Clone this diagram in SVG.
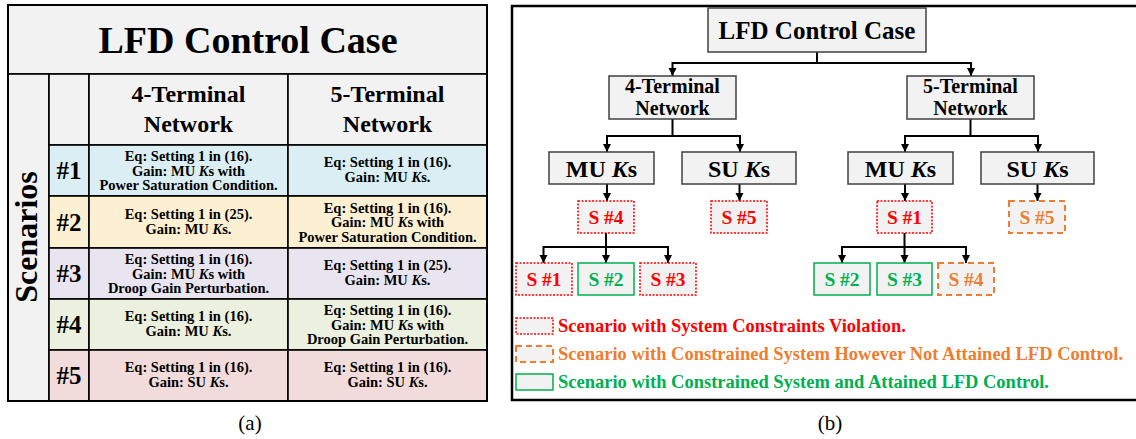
<svg xmlns="http://www.w3.org/2000/svg" width="1136" height="439" viewBox="0 0 1136 439" font-family="'Liberation Serif', 'DejaVu Serif', serif">
<defs>
<style>
text{font-family:"Liberation Serif","DejaVu Serif",serif;font-weight:700;text-anchor:middle;fill:#000}
.cell{stroke:#000;stroke-width:1.6}
.g{fill:#f2f2f2}
.r1{fill:#daeef3}.r2{fill:#fdf0d2}.r3{fill:#e9e5f0}.r4{fill:#ebf1de}.r5{fill:#f2dcdb}
.t{font-size:14.5px}
.hash{font-size:25px}
.box{fill:#f2f2f2;stroke:#404040;stroke-width:1.5}
.red{fill:#f2f2f2;stroke:#ff0000;stroke-width:1.5;stroke-dasharray:2 1.5}
.grn{fill:#f2f2f2;stroke:#00b050;stroke-width:1.5}
.org{fill:#f2f2f2;stroke:#ed7d31;stroke-width:2;stroke-dasharray:6 4}
.tr{fill:#ff0000}.tg{fill:#00b050}.to{fill:#ed7d31}
.s{font-size:19.5px}
.lg{font-size:18.5px;text-anchor:start}
.cap{font-weight:400;font-size:21px}
.con{fill:none;stroke:#000;stroke-width:2;marker-end:url(#ah)}
</style>
<marker id="ah" markerUnits="userSpaceOnUse" markerWidth="10" markerHeight="10" refX="8" refY="4" orient="auto">
<path d="M0,0 L8,4 L0,8 z" fill="#000"/>
</marker>
</defs>

<g id="table-a">
<rect class="cell g" x="8" y="5" width="479" height="69" stroke-width="2"/>
<text x="248" y="53" style="font-size:38px">LFD Control Case</text>
<rect class="cell g" x="8" y="74" width="41" height="327"/>
<text transform="translate(37,237) rotate(-90)" style="font-size:32px">Scenarios</text>
<rect class="cell g" x="49" y="74" width="40" height="71"/>
<rect class="cell g" x="89" y="74" width="199" height="71"/>
<rect class="cell g" x="288" y="74" width="199" height="71"/>
<text x="188.5" y="102" style="font-size:24px">4-Terminal</text>
<text x="188.5" y="132" style="font-size:24px">Network</text>
<text x="387.5" y="102" style="font-size:24px">5-Terminal</text>
<text x="387.5" y="132" style="font-size:24px">Network</text>
</g>

<g id="row1">
<rect class="cell r1" x="49" y="145" width="40" height="51"/>
<rect class="cell r1" x="89" y="145" width="199" height="51"/>
<rect class="cell r1" x="288" y="145" width="199" height="51"/>
<text class="hash" x="69" y="179">#1</text>
<text class="t" x="188.5" y="161">Eq: Setting 1 in (16).</text>
<text class="t" x="188.5" y="175.5">Gain: MU <tspan font-style="italic">K</tspan>s with</text>
<text class="t" x="188.5" y="190">Power Saturation Condition.</text>
<text class="t" x="387.5" y="167">Eq: Setting 1 in (16).</text>
<text class="t" x="387.5" y="182">Gain: MU <tspan font-style="italic">K</tspan>s.</text>
</g>

<g id="row2">
<rect class="cell r2" x="49" y="196" width="40" height="52"/>
<rect class="cell r2" x="89" y="196" width="199" height="52"/>
<rect class="cell r2" x="288" y="196" width="199" height="52"/>
<text class="hash" x="69" y="231">#2</text>
<text class="t" x="188.5" y="218.5">Eq: Setting 1 in (25).</text>
<text class="t" x="188.5" y="233.5">Gain: MU <tspan font-style="italic">K</tspan>s.</text>
<text class="t" x="387.5" y="212.5">Eq: Setting 1 in (16).</text>
<text class="t" x="387.5" y="227">Gain: MU <tspan font-style="italic">K</tspan>s with</text>
<text class="t" x="387.5" y="241.5">Power Saturation Condition.</text>
</g>

<g id="row3">
<rect class="cell r3" x="49" y="248" width="40" height="51"/>
<rect class="cell r3" x="89" y="248" width="199" height="51"/>
<rect class="cell r3" x="288" y="248" width="199" height="51"/>
<text class="hash" x="69" y="282">#3</text>
<text class="t" x="188.5" y="264">Eq: Setting 1 in (16).</text>
<text class="t" x="188.5" y="278.5">Gain: MU <tspan font-style="italic">K</tspan>s with</text>
<text class="t" x="188.5" y="293">Droop Gain Perturbation.</text>
<text class="t" x="387.5" y="270">Eq: Setting 1 in (25).</text>
<text class="t" x="387.5" y="285">Gain: MU <tspan font-style="italic">K</tspan>s.</text>
</g>

<g id="row4">
<rect class="cell r4" x="49" y="299" width="40" height="51"/>
<rect class="cell r4" x="89" y="299" width="199" height="51"/>
<rect class="cell r4" x="288" y="299" width="199" height="51"/>
<text class="hash" x="69" y="333">#4</text>
<text class="t" x="188.5" y="321">Eq: Setting 1 in (16).</text>
<text class="t" x="188.5" y="336">Gain: MU <tspan font-style="italic">K</tspan>s.</text>
<text class="t" x="387.5" y="315">Eq: Setting 1 in (16).</text>
<text class="t" x="387.5" y="329.5">Gain: MU <tspan font-style="italic">K</tspan>s with</text>
<text class="t" x="387.5" y="344">Droop Gain Perturbation.</text>
</g>

<g id="row5">
<rect class="cell r5" x="49" y="350" width="40" height="51"/>
<rect class="cell r5" x="89" y="350" width="199" height="51"/>
<rect class="cell r5" x="288" y="350" width="199" height="51"/>
<text class="hash" x="69" y="384">#5</text>
<text class="t" x="188.5" y="372">Eq: Setting 1 in (16).</text>
<text class="t" x="188.5" y="387">Gain: SU <tspan font-style="italic">K</tspan>s.</text>
<text class="t" x="387.5" y="372">Eq: Setting 1 in (16).</text>
<text class="t" x="387.5" y="387">Gain: SU <tspan font-style="italic">K</tspan>s.</text>
</g>
<rect x="8" y="5" width="479" height="396" fill="none" stroke="#000" stroke-width="2"/>
<text class="cap" x="250" y="430">(a)</text>

<g id="panel-b">
<rect x="512" y="6" width="640" height="394" fill="#fff" stroke="#000" stroke-width="2.5"/>
</g>

<g id="connectors">
<path class="con" d="M817,52 V63 H672.5 V76"/>
<path class="con" d="M817,63 H971 V76"/>
<path class="con" d="M672.5,119 V136 H607 V152"/>
<path class="con" d="M672.5,136 H740 V152"/>
<path class="con" d="M970.5,119 V136 H905 V152"/>
<path class="con" d="M970.5,136 H1038 V152"/>
<path class="con" d="M607,184 V201"/>
<path class="con" d="M739.5,184 V201"/>
<path class="con" d="M905,184 V201"/>
<path class="con" d="M1037.5,184 V201"/>
<path class="con" d="M606,233 V247 H543.5 V263"/>
<path class="con" d="M606,247 V263"/>
<path class="con" d="M606,247 H668 V263"/>
<path class="con" d="M904.5,233 V247 H842 V263"/>
<path class="con" d="M904.5,247 V263"/>
<path class="con" d="M904.5,247 H966 V263"/>
</g>

<g id="root"><rect class="box" x="708" y="8" width="218" height="44"/><text x="817" y="39" style="font-size:25px">LFD Control Case</text></g>
<g id="net4"><rect class="box" x="609" y="76" width="127" height="43"/><text x="672.5" y="93" style="font-size:20px">4-Terminal</text><text x="672.5" y="115" style="font-size:20px">Network</text></g>
<g id="net5"><rect class="box" x="907" y="76" width="127" height="43"/><text x="970.5" y="93" style="font-size:20px">5-Terminal</text><text x="970.5" y="115" style="font-size:20px">Network</text></g>
<g id="mu4"><rect class="box" x="549" y="152" width="105" height="32"/><text x="601.5" y="177" style="font-size:24px">MU <tspan font-style="italic">K</tspan>s</text></g>
<g id="su4"><rect class="box" x="682" y="152" width="114" height="32"/><text x="739" y="177" style="font-size:24px">SU <tspan font-style="italic">K</tspan>s</text></g>
<g id="mu5"><rect class="box" x="848" y="152" width="105" height="32"/><text x="900.5" y="177" style="font-size:24px">MU <tspan font-style="italic">K</tspan>s</text></g>
<g id="su5"><rect class="box" x="981" y="152" width="113" height="32"/><text x="1037.5" y="177" style="font-size:24px">SU <tspan font-style="italic">K</tspan>s</text></g>

<g id="s4-4t"><rect class="red" x="578" y="201" width="56" height="32"/><text class="s tr" x="606" y="223.5">S #4</text></g>
<g id="s5-4t"><rect class="red" x="711" y="201" width="56" height="32"/><text class="s tr" x="739" y="223.5">S #5</text></g>
<g id="s1-4t"><rect class="red" x="516" y="263" width="56" height="32"/><text class="s tr" x="544" y="285.5">S #1</text></g>
<g id="s2-4t"><rect class="grn" x="578" y="263" width="56" height="32"/><text class="s tg" x="606" y="285.5">S #2</text></g>
<g id="s3-4t"><rect class="red" x="640" y="263" width="56" height="32"/><text class="s tr" x="668" y="285.5">S #3</text></g>

<g id="s1-5t"><rect class="red" x="877" y="201" width="55" height="32"/><text class="s tr" x="904.5" y="223.5">S #1</text></g>
<g id="s5-5t"><rect class="org" x="1009" y="201" width="56" height="32"/><text class="s to" x="1037" y="223.5">S #5</text></g>
<g id="s2-5t"><rect class="grn" x="814" y="263" width="56" height="32"/><text class="s tg" x="842" y="285.5">S #2</text></g>
<g id="s3-5t"><rect class="grn" x="877" y="263" width="55" height="32"/><text class="s tg" x="904.5" y="285.5">S #3</text></g>
<g id="s4-5t"><rect class="org" x="938" y="263" width="56" height="32"/><text class="s to" x="966" y="285.5">S #4</text></g>

<g id="legend">
<rect class="red" x="516" y="318" width="37" height="16"/>
<text class="lg tr" x="558" y="332">Scenario with System Constraints Violation.</text>
<rect class="org" x="516" y="346" width="37" height="16"/>
<text class="lg to" x="558" y="360">Scenario with Constrained System However Not Attained LFD Control.</text>
<rect class="grn" x="516" y="374" width="37" height="16"/>
<text class="lg tg" x="558" y="388">Scenario with Constrained System and Attained LFD Control.</text>
</g>
<text class="cap" x="830" y="430">(b)</text>
</svg>
